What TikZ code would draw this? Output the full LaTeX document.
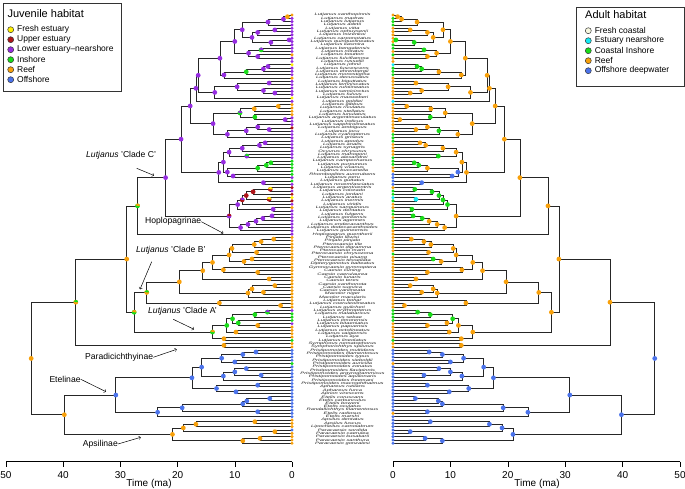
\documentclass[tikz,border=0pt]{standalone}
\usepackage{fontspec}
\setmainfont{Liberation Sans}
\usetikzlibrary{calc,positioning}

\definecolor{hY}{RGB}{255,240,0}
\definecolor{hR}{RGB}{175,20,25}
\definecolor{hP}{RGB}{150,45,225}
\definecolor{hG}{RGB}{25,220,25}
\definecolor{hO}{RGB}{248,160,10}
\definecolor{hB}{RGB}{75,115,235}
\definecolor{hW}{RGB}{248,248,225}
\definecolor{hC}{RGB}{20,235,245}

% tips: index / juvenile / adult / name
\def\tiplist{0/O/O/Lutjanus xanthopinnis,1/P/G/Lutjanus madras,2/P/G/Lutjanus lutjanus,3/P/G/Lutjanus adetii,
4/P/O/Lutjanus vitta,5/P/O/Lutjanus ophuysenii,6/P/O/Lutjanus mizenkoi,7/P/O/Lutjanus carponotatus,
8/P/O/Lutjanus quinquelineatus,9/P/G/Lutjanus kasmira,10/P/G/Lutjanus bengalensis,11/P/O/Lutjanus notatus,
12/O/G/Lutjanus boutton,13/P/O/Lutjanus fulviflamma,14/P/O/Lutjanus russellii,15/Y/C/Lutjanus johnii,
16/P/G/Lutjanus fuscescens,17/P/G/Lutjanus ehrenbergii,18/P/G/Lutjanus monostigma,19/O/O/Lutjanus decussatus,
20/P/O/Lutjanus biguttatus,21/P/O/Lutjanus lemniscatus,22/P/O/Lutjanus rufolineatus,23/P/O/Lutjanus semicinctus,
24/P/O/Lutjanus fulvus,25/Y/O/Lutjanus maxweberi,26/P/C/Lutjanus goldiei,27/O/O/Lutjanus gibbus,
28/O/O/Lutjanus rivulatus,29/O/O/Lutjanus stellatus,30/O/O/Lutjanus lunulatus,31/P/O/Lutjanus argentimaculatus,
32/P/O/Lutjanus indicus,33/P/O/Lutjanus sapphirolineatus,34/R/O/Lutjanus ambiguus,35/P/O/Lutjanus jocu,
36/P/G/Lutjanus cyanopterus,37/P/G/Lutjanus griseus,38/P/G/Lutjanus apodus,39/P/O/Lutjanus analis,
40/P/O/Lutjanus synagris,41/P/O/Ocyurus chrysurus,42/P/O/Lutjanus mahogoni,43/P/G/Lutjanus alexandrei,
44/G/G/Lutjanus campechanus,45/G/G/Lutjanus purpureus,46/G/O/Lutjanus vivanus,47/G/O/Lutjanus buccanella,
48/G/B/Rhomboplites aurorubens,49/P/B/Lutjanus peru,50/G/B/Lutjanus guttatus,51/P/B/Lutjanus novemfasciatus,
52/R/O/Lutjanus argentiventris,53/P/G/Lutjanus colorado,54/R/G/Lutjanus jordani,55/Y/C/Lutjanus aratus,
56/R/G/Lutjanus inermis,57/P/O/Lutjanus viridis,58/O/O/Lutjanus sanguineus,59/P/G/Lutjanus dentatus,
60/P/G/Lutjanus fulgens,61/P/O/Lutjanus goreensis,62/P/G/Lutjanus agennes,63/P/G/Lutjanus endecacanthus,
64/P/G/Lutjanus dodecacanthoides,65/P/O/Lutjanus guineensis,66/P/O/Hoplopagrus guentherii,67/O/O/Pinjalo lewisi,
68/O/O/Pinjalo pinjalo,69/O/O/Pterocaesio tile,70/O/O/Pterocaesio digramma,71/O/O/Pterocaesio marri,
72/O/G/Pterocaesio chrysozona,73/O/O/Pterocaesio pisang,74/O/O/Pterocaesio tessellata,75/O/O/Dipterygonotus balteatus,
76/O/O/Gymnocaesio gymnoptera,77/O/O/Caesio cuning,78/O/O/Caesio caerulaurea,79/O/O/Caesio lunaris,
80/O/O/Caesio teres,81/O/O/Caesio xanthonota,82/O/O/Caesio suevica,83/O/O/Caesio varilineata,
84/O/O/Macolor niger,85/O/O/Macolor macularis,86/O/O/Lutjanus bohar,87/O/O/Lutjanus coeruleolineatus,
88/O/O/Lutjanus guilcheri,89/P/G/Lutjanus erythropterus,90/G/G/Lutjanus malabaricus,91/G/G/Lutjanus sebae,
92/G/G/Lutjanus timorensis,93/P/O/Lutjanus bitaeniatus,94/O/O/Lutjanus papuensis,95/O/O/Lutjanus octolineatus,
96/O/O/Lutjanus vaigiensis,97/O/O/Lutjanus aya,98/G/G/Lutjanus lineolatus,99/O/O/Symphorus nematophorus,
100/O/O/Symphorichthys spilurus,101/B/B/Pristipomoides multidens,102/B/B/Pristipomoides filamentosus,103/B/B/Pristipomoides typus,
104/B/B/Pristipomoides sieboldii,105/G/O/Pristipomoides auricilla,106/B/B/Pristipomoides zonatus,107/B/B/Pristipomoides flavipinnis,
108/B/B/Pristipomoides argyrogrammicus,109/B/B/Pristipomoides aquilonaris,110/B/B/Pristipomoides freemani,111/B/B/Pristipomoides macrophthalmus,
112/B/B/Aphareus rutilans,113/B/B/Aphareus furca,114/B/B/Aprion virescens,115/B/B/Etelis coruscans,
116/B/B/Etelis carbunculus,117/B/B/Etelis boweni,118/B/B/Etelis oculatus,119/B/B/Randallichthys filamentosus,
120/B/O/Etelis radiosus,121/B/B/Etelis marshi,122/O/B/Apsilus dentatus,123/O/B/Apsilus fuscus,
124/O/B/Lipocheilus carnolabrum,125/B/B/Paracaesio sordida,126/O/B/Paracaesio caerulea,127/O/B/Paracaesio kusakarii,
128/O/B/Paracaesio xanthura,129/O/B/Paracaesio gonzalesi}

% internal nodes, children first: name / age / child / child / juvenile / adult
\def\nodelist{m1/0.8/t0/t1/O/O,m2/1.5/m1/t2/P/O,m3/4.2/m2/t3/P/O,m4/3/t4/t5/P/O,m5/6/m4/t6/P/O,
m6/0.5/t7/t8/P/G,m7/3.7/m6/t9/P/G,m8/7/m5/m7/P/O,T1a/8.7/m3/m8/P/O,m9/5.4/t10/t11/G/G,
m10/6/t12/t13/P/O,m11/7.6/m9/m10/P/O,T1ab/10/T1a/m11/P/O,m12/4.2/t15/t16/P/G,m13/5/m12/t17/P/G,
m14/8/m13/t18/G/O,m15/11.9/m14/t19/P/O,T1/12.6/T1ab/m15/P/O,n3/4/t20/t21/P/O,n1/3/t23/t24/P/O,
n2/5/t22/n1/P/O,T2a/9.6/n3/n2/P/O,T2/13.5/T2a/t25/P/O,P1a/16.4/T1/T2/P/O,P1/16.8/P1a/t26/P/O,
k0/2.4/t27/t28/O/O,k0b/6.6/k0/t29/O/O,k1/1.2/t31/t32/P/O,k2/6.5/t30/k1/G/G,k3/9.1/k0b/k2/G/O,
k4/4/t34/t35/P/O,k5/6/t33/k4/P/O,k6/8/k5/t36/P/G,k6b/11.3/k6/t37/P/O,k7/13.8/k3/k6b/P/O,
C1a/17.8/P1/k7/P/O,w1/4.7/t38/t39/P/O,w2/5.7/w1/t40/P/O,w3/8.7/w2/t41/P/O,w4/7.9/t42/t43/P/G,
w5/11/w3/w4/P/O,w6/3.7/t44/t45/G/G,w7/4.5/w6/t46/G/G,w8/6/w7/t47/G/O,w9/10.3/t48/t49/P/B,
w10/11.3/w8/w9/P/B,X1/12/w5/w10/P/O,w11/5/t50/t51/P/B,C1b/12.8/X1/w11/P/O,C1/19.4/C1a/C1b/P/O,
u1/3.8/t52/t53/R/G,u2/6.8/u1/t54/R/G,u3/4/t55/t56/R/C,u4/8/u2/u3/R/G,u6/8.7/u4/t57/R/G,
u5/3.3/t58/t59/P/G,u7/9.5/u6/u5/P/G,v1/3.5/t60/t61/P/G,v2/5.1/v1/t62/P/G,v3/6.3/v2/t63/P/O,
v4/7.7/v3/t64/P/O,v5/9/v4/t65/P/O,C2/11/u7/v5/P/O,cladeC/22.1/C1/C2/P/O,hopl/27/cladeC/t66/G/O,
q1/3.2/t67/t68/O/O,q2/5.4/q1/t69/O/O,q3/6.6/q2/t70/O/O,q4/6.2/t71/t72/O/O,q5/10.5/q3/q4/O/O,
q6/7/t73/t74/O/G,q7/8.4/q6/t75/O/O,q8/11/q5/q7/O/O,q9/6/t77/t78/O/O,q10/12/t76/q9/O/O,
q11/13.9/q8/q10/O/O,q12/4/t79/t80/O/O,q13/15.6/q11/q12/O/O,q14/3/t81/t82/O/O,q15/5/t83/t84/O/O,
q16/7/q14/q15/O/O,q16b/7.7/q16/t85/O/O,q17/19.7/q13/q16b/O/O,q18a/2/t87/t88/O/O,q18/12.7/t86/q18a/O/O,
cladeB/25.4/q17/q18/O/O,p1/4.3/t89/t90/G/G,p2/6.5/p1/t91/G/G,p4/6/t93/t94/O/O,p5/9.4/t92/p4/G/O,
p6/10.4/p2/p5/G/G,p7/9.8/t95/t96/O/O,Aa/11.4/p6/p7/G/O,Ab/11.9/t97/t98/O/O,cladeA/13.9/Aa/Ab/G/O,
cladeAB/27.6/cladeB/cladeA/G/O,lutj/28.9/hopl/cladeAB/O/O,para/11.9/t99/t100/O/O,upper/37.8/lutj/para/O/O,
z1/6.3/t101/t102/B/B,z2/8.6/z1/t103/B/B,z3/10/t104/t105/B/B,z4/12.3/z2/z3/B/B,z6/8/t106/t107/B/B,
z5/5.4/t108/t109/B/B,z7/10/z6/z5/B/B,z8/12/z7/t110/B/B,z9/15.8/z4/z8/B/B,y2/6/t111/t112/B/B,
y1/9.8/t113/t114/B/B,y3/13.2/y2/y1/B/B,etU/17.5/z9/y3/B/B,x1/3.9/t115/t116/B/B,x2/7.9/x1/t117/B/B,
x3/8.6/x2/t118/B/B,x4/6/t119/t120/B/B,x5/19.2/x3/x4/B/B,etL/23.5/x5/t121/B/B,etel/30.8/etU/etL/B/B,
a1/6.5/t122/t123/O/B,a2/16.8/a1/t124/O/B,a2b/3/t125/t126/O/B,a3/19/a2/a2b/O/B,a4/5.6/t127/t128/O/B,
a6/8.6/a4/t129/O/B,apsi/20.9/a3/a6/O/B,lower/39.8/etel/apsi/O/B,root/45.6/upper/lower/O/B}

% nodes drawn as two-state pies on the juvenile tree: name / second state
\def\pielist{u1/Y,u3/Y,u6/P,C2/R,hopl/O,cladeAB/O,cladeB/G,cladeA/O,upper/G,p1/P,k3/P,m9/P,w4/G}

\begin{document}
\begin{tikzpicture}[x=1pt,y=-1pt,
branch/.style={draw=black!85,line width=0.7pt},
dot/.style={circle,inner sep=0pt,minimum size=4.8pt},
tipdot/.style={circle,inner sep=0pt,minimum size=3.4pt},
taxon/.style={font=\itshape\fontsize{3.4}{3.4}\selectfont,text=black!88,inner sep=0pt},
key/.style={circle,draw=black!80,line width=0.5pt,inner sep=0pt,minimum size=6pt},
keytext/.style={font=\fontsize{8.5}{9}\selectfont,inner sep=0pt,anchor=west},
keytitle/.style={font=\fontsize{11}{12}\selectfont,inner sep=0pt,anchor=west},
cladelab/.style={font=\fontsize{8.6}{9}\selectfont,inner sep=0pt,anchor=west},
pointer/.style={->,line width=0.5pt},
axislab/.style={font=\fontsize{10}{11}\selectfont,inner sep=0pt}]
\useasboundingbox (0,0) rectangle (685,488);

% tips and names
\foreach \i/\lc/\rc/\nm in \tiplist {
  \coordinate (L-t\i) at (292,{15+3.32*\i});
  \coordinate (R-t\i) at (393,{15+3.32*\i});
  \node[taxon] (name\i) at (342.5,{15+3.32*\i}) {\scalebox{1.7}[1]{\nm}};
}

% branches, both trees
\foreach \nd/\a/\u/\v/\lc/\rc in \nodelist {
  \path let \p1=(L-\u), \p2=(L-\v) in
    coordinate (L-\nd) at ({(292-5.72*\a)*1pt},{0.5*(\y1)+0.5*(\y2)});
  \path let \p1=(L-\nd) in coordinate (R-\nd) at ({(393+5.74*\a)*1pt},\y1);
  \draw[branch] (L-\nd) |- (L-\u) (L-\nd) |- (L-\v);
  \draw[branch] (R-\nd) |- (R-\u) (R-\nd) |- (R-\v);
}

% states at tips and nodes
\foreach \i/\lc/\rc/\nm in \tiplist {
  \node[tipdot,fill=h\lc] (sL-t\i) at (L-t\i) {};
  \node[tipdot,fill=h\rc] (sR-t\i) at (R-t\i) {};
}
\foreach \nd/\a/\u/\v/\lc/\rc in \nodelist {
  \node[dot,fill=h\lc] (sL-\nd) at (L-\nd) {};
  \node[dot,fill=h\rc] (sR-\nd) at (R-\nd) {};
}
\foreach \nd/\c in \pielist
  \fill[h\c] (L-\nd) -- ++(2.4pt,0) arc[start angle=0,end angle=160,radius=2.4pt] -- cycle;

% legends
\node[draw=black!80,line width=0.6pt,minimum width=118pt,minimum height=88pt,anchor=north west] (juvbox) at (2.7,2.7) {};
\node[keytitle] (juvtitle) at (7.3,14) {Juvenile habitat};
\foreach \k/\c/\t in {0/Y/Fresh estuary,1/R/Upper estuary,2/P/Lower estuary--nearshore,3/G/Inshore,4/O/Reef,5/B/Offshore} {
  \node[key,fill=h\c] (jk\k) at (10.7,{29.7+10*\k}) {};
  \node[keytext,right=3pt of jk\k] (jt\k) {\t};
}
\node[draw=black!80,line width=0.6pt,minimum width=108pt,minimum height=79pt,anchor=north west] (adbox) at (575.7,6.7) {};
\node[keytitle] (adtitle) at (585,15) {Adult habitat};
\foreach \k/\c/\t in {0/W/Fresh coastal,1/C/Estuary nearshore,2/G/Coastal Inshore,3/O/Reef,4/B/Offshore deepwater} {
  \node[key,fill=h\c] (ak\k) at (588.3,{30.7+10*\k}) {};
  \node[keytext,right=3pt of ak\k] (at\k) {\t};
}

% clade labels
\node[cladelab] (labC) at (86,155) {\textit{Lutjanus} 'Clade C'};
\coordinate (fromC) at (136.7,168.3);
\coordinate (toC) at (154,175.5);
\draw[pointer] (fromC) -- (toC);
\node[cladelab] (labH) at (145,221.7) {Hoplopagrinae};
\coordinate (toH) at (223.3,233.3);
\draw[pointer] (labH.east) -- (toH);
\node[cladelab] (labB) at (136,250.7) {\textit{Lutjanus} 'Clade B'};
\coordinate (fromB) at (151.7,261.7);
\coordinate (toB) at (140,289.3);
\draw[pointer] (fromB) -- (toB);
\node[cladelab] (labA) at (148,311.7) {\textit{Lutjanus} 'Clade A'};
\coordinate (fromA) at (173.3,319.3);
\coordinate (toA) at (194,329.3);
\draw[pointer] (fromA) -- (toA);
\node[cladelab] (labP) at (85,357.3) {Paradicichthyinae};
\coordinate (toP) at (176.7,349.3);
\draw[pointer] (labP.east) -- (toP);
\node[cladelab] (labE) at (49.3,379.3) {Etelinae};
\coordinate (toE) at (106,391.7);
\draw[pointer] (labE.east) -- (toE);
\node[cladelab] (labS) at (82.7,444) {Apsilinae};
\coordinate (toS) at (140.7,437.3);
\draw[pointer] (labS.east) -- (toS);

% time axes
\draw[line width=0.6pt] (6,461.6) -- (292,461.6);
\draw[line width=0.6pt] (393,461.6) -- (680,461.6);
\foreach \t in {0,10,...,50} {
  \draw[line width=0.6pt] ({292-5.72*\t},461.6) -- ++(0,5);
  \node[axislab] (tl\t) at ({292-5.72*\t},475) {\t};
  \draw[line width=0.6pt] ({393+5.74*\t},461.6) -- ++(0,5);
  \node[axislab] (tr\t) at ({393+5.74*\t},475) {\t};
}
\node[axislab] (timeL) at (149,483.5) {Time (ma)};
\node[axislab] (timeR) at (537,483.5) {Time (ma)};
\end{tikzpicture}
\end{document}
